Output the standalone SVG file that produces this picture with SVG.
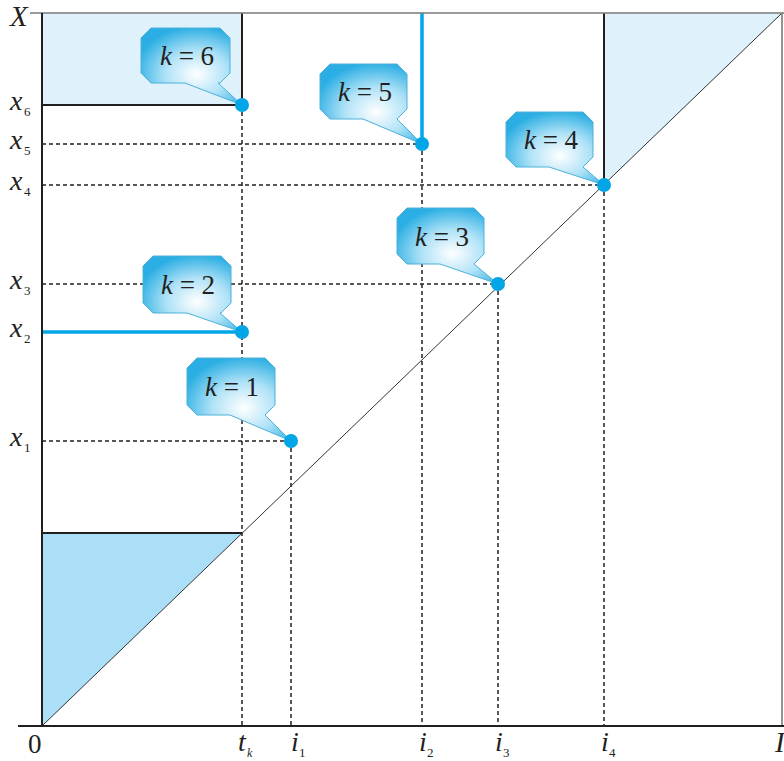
<svg xmlns="http://www.w3.org/2000/svg" width="784" height="761" viewBox="0 0 784 761">
<defs>
<radialGradient id="bub" cx="0.55" cy="0.6" r="0.62">
<stop offset="0" stop-color="#ffffff"/>
<stop offset="0.5" stop-color="#afe2f7"/>
<stop offset="1" stop-color="#2aaee3"/>
</radialGradient>
<style>
.lbl{font-family:"Liberation Serif","Times New Roman",serif;fill:#231f20}
.it{font-style:italic}
.dash{stroke:#231f20;stroke-width:1.5;stroke-dasharray:4 3;fill:none}
.blue{stroke:#00a6e6;stroke-width:3.5;fill:none}
.dark{stroke:#231f20;stroke-width:2;fill:none}
.gray{stroke:#7a7a7a;stroke-width:1.6;fill:none}
.bub{fill:url(#bub);stroke:#4fb0d8;stroke-width:1}
.dot{fill:#00a6e6}
.btxt{font-family:"Liberation Serif","Times New Roman",serif;font-size:27px;fill:#231f20;text-anchor:middle}
</style>
</defs>
<rect width="784" height="761" fill="#ffffff"/>
<g id="regions">
<rect x="42" y="13" width="200" height="92" fill="#dff1fb"/>
<polygon points="604,13 782,13 604,185" fill="#dff1fb"/>
<polygon points="42,533 242,533 42,726" fill="#aadff7"/>
</g>
<g id="connectors">
<line x1="42" y1="726" x2="782" y2="13" stroke="#333" stroke-width="1"/>
<line class="dash" x1="42" y1="144" x2="422" y2="144"/>
<line class="dash" x1="42" y1="185" x2="604" y2="185"/>
<line class="dash" x1="42" y1="284" x2="498" y2="284"/>
<line class="dash" x1="42" y1="441" x2="291" y2="441"/>
<line class="dash" x1="242" y1="105" x2="242" y2="726"/>
<line class="dash" x1="291" y1="441" x2="291" y2="726"/>
<line class="dash" x1="422" y1="144" x2="422" y2="726"/>
<line class="dash" x1="498" y1="284" x2="498" y2="726"/>
<line class="dash" x1="604" y1="185" x2="604" y2="726"/>
<line class="dark" x1="242" y1="13" x2="242" y2="105"/>
<line class="dark" x1="42" y1="105" x2="242" y2="105"/>
<line class="dark" x1="604" y1="13" x2="604" y2="185"/>
<line class="dark" x1="42" y1="533" x2="242" y2="533"/>
<line class="blue" x1="422" y1="13" x2="422" y2="144"/>
<line class="blue" x1="42" y1="332" x2="242" y2="332"/>
<line class="gray" x1="30" y1="13" x2="784" y2="13"/>
<line class="gray" x1="782" y1="13" x2="782" y2="726"/>
<line class="dark" x1="42" y1="13" x2="42" y2="726" stroke-width="2.2"/>
<line class="dark" x1="18" y1="726" x2="784" y2="726" stroke-width="2.6"/>
</g>
<g id="k6">
<path class="bub" d="M151,28 L220,28 L230,38 L230,73 L220,83 L218,83 L242,105 L185,83 L151,83 L141,73 L141,38 Z"/>
<circle class="dot" cx="242" cy="105" r="7"/>
<text class="btxt" x="187" y="65"><tspan class="it">k</tspan> = 6</text>
</g>
<g id="k5">
<path class="bub" d="M330,64 L397,64 L407,74 L407,109 L397,119 L397,119 L422,144 L363,119 L330,119 L320,109 L320,74 Z"/>
<circle class="dot" cx="422" cy="144" r="7"/>
<text class="btxt" x="365" y="101"><tspan class="it">k</tspan> = 5</text>
</g>
<g id="k4">
<path class="bub" d="M516,112 L583,112 L593,122 L593,157 L583,167 L583,167 L604,185 L549,167 L516,167 L506,157 L506,122 Z"/>
<circle class="dot" cx="604" cy="185" r="7"/>
<text class="btxt" x="551" y="149"><tspan class="it">k</tspan> = 4</text>
</g>
<g id="k3">
<path class="bub" d="M407,208 L474,208 L484,218 L484,254 L474,264 L474,264 L498,284 L440,264 L407,264 L397,254 L397,218 Z"/>
<circle class="dot" cx="498" cy="284" r="7"/>
<text class="btxt" x="442" y="246"><tspan class="it">k</tspan> = 3</text>
</g>
<g id="k2">
<path class="bub" d="M153,256 L221,256 L231,266 L231,303 L221,313 L220,313 L242,332 L187,313 L153,313 L143,303 L143,266 Z"/>
<circle class="dot" cx="242" cy="332" r="7"/>
<text class="btxt" x="188" y="294"><tspan class="it">k</tspan> = 2</text>
</g>
<g id="k1">
<path class="bub" d="M197,358 L265,358 L275,368 L275,405 L265,415 L265,415 L291,441 L230,415 L197,415 L187,405 L187,368 Z"/>
<circle class="dot" cx="291" cy="441" r="7"/>
<text class="btxt" x="232" y="396"><tspan class="it">k</tspan> = 1</text>
</g>
<g id="labels">
<text class="lbl it" x="10" y="26" font-size="29">X</text>
<text class="lbl it" x="10" y="110" font-size="28">x</text><text class="lbl" x="24" y="116" font-size="13">6</text>
<text class="lbl it" x="10" y="149" font-size="28">x</text><text class="lbl" x="24" y="155" font-size="13">5</text>
<text class="lbl it" x="10" y="190" font-size="28">x</text><text class="lbl" x="24" y="196" font-size="13">4</text>
<text class="lbl it" x="10" y="289" font-size="28">x</text><text class="lbl" x="24" y="295" font-size="13">3</text>
<text class="lbl it" x="10" y="337" font-size="28">x</text><text class="lbl" x="24" y="343" font-size="13">2</text>
<text class="lbl it" x="10" y="446" font-size="28">x</text><text class="lbl" x="24" y="452" font-size="13">1</text>
<text class="lbl" x="28" y="753" font-size="27">0</text>
<text class="lbl it" x="238" y="751" font-size="28">t</text><text class="lbl it" x="247" y="757" font-size="12">k</text>
<text class="lbl it" x="291" y="751" font-size="28">i</text><text class="lbl" x="299" y="757" font-size="13">1</text>
<text class="lbl it" x="419" y="751" font-size="28">i</text><text class="lbl" x="427" y="757" font-size="13">2</text>
<text class="lbl it" x="495" y="751" font-size="28">i</text><text class="lbl" x="503" y="757" font-size="13">3</text>
<text class="lbl it" x="601" y="751" font-size="28">i</text><text class="lbl" x="609" y="757" font-size="13">4</text>
<text class="lbl it" x="775" y="752" font-size="29">I</text>
</g>
</svg>
